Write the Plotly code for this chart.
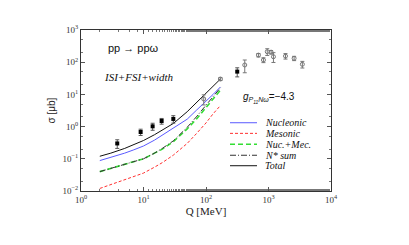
import plotly.graph_objects as go

# Theory curves
q_theory = [2, 3, 5, 7, 10, 15, 20, 30, 50, 70, 100, 130, 170]
nucleonic = [0.088, 0.11, 0.15, 0.19, 0.25, 0.38, 0.55, 0.88, 1.7, 3.2, 6.0, 10.0, 17.0]
mesonic = [0.012, 0.016, 0.022, 0.028, 0.036, 0.055, 0.076, 0.13, 0.3, 0.6, 1.3, 2.5, 4.5]
nuc_mec = [0.04, 0.05, 0.065, 0.08, 0.1, 0.15, 0.2, 0.34, 0.85, 1.7, 3.8, 7.0, 13.5]
nstar_sum = [0.04, 0.05, 0.065, 0.08, 0.1, 0.15, 0.21, 0.36, 0.95, 2.0, 4.5, 8.5, 16.0]
total = [0.12, 0.15, 0.21, 0.28, 0.37, 0.56, 0.8, 1.25, 2.9, 5.5, 11.0, 18.0, 30.0]

series_names = ["Nucleonic", "Mesonic", "Nuc.+Mec.", "N* sum", "Total"]

# Data: filled points
q_filled = [3.8, 9.0, 14.0, 19.5, 30.0, 316]
s_filled = [0.30, 0.68, 1.02, 1.49, 1.73, 51]
e_filled = [0.09, 0.15, 0.25, 0.3, 0.45, 16]

# Data: open points
q_open = [92, 170, 417, 690, 830, 955, 1100, 1200, 1870, 2570, 3480]
s_open = [7.2, 30, 82, 166, 117, 212, 205, 148, 155, 132, 86]
e_open = [2.5, 3, 35, 20, 20, 50, 25, 50, 30, 20, 20]

x_ticks = [1, 10, 100, 1000, 10000]
x_ticktext = ["10<sup>0</sup>", "10<sup>1</sup>", "10<sup>2</sup>", "10<sup>3</sup>", "10<sup>4</sup>"]
y_ticks = [0.01, 0.1, 1, 10, 100, 1000]
y_ticktext = ["10<sup>−2</sup>", "10<sup>−1</sup>", "10<sup>0</sup>", "10<sup>1</sup>", "10<sup>2</sup>", "10<sup>3</sup>"]

styles = [
    dict(color="#5a5aff", width=1, dash="solid"),
    dict(color="#ff3030", width=1, dash="3px,2px"),
    dict(color="#33dd33", width=1.6, dash="5px,3px"),
    dict(color="#333333", width=1, dash="6px,2px,1px,2px"),
    dict(color="#111111", width=1, dash="solid"),
]
curves = [nucleonic, mesonic, nuc_mec, nstar_sum, total]

fig = go.Figure()

for name, ys, st in zip(series_names, curves, styles):
    fig.add_trace(go.Scatter(x=q_theory, y=ys, mode="lines", name=name, showlegend=False,
                             line=st))

fig.add_trace(go.Scatter(x=q_open, y=s_open, mode="markers", showlegend=False,
                         marker=dict(symbol="circle-open", size=4, color="#777777", line=dict(width=1)),
                         error_y=dict(type="data", array=e_open, color="#777777", thickness=1, width=2)))
fig.add_trace(go.Scatter(x=q_filled, y=s_filled, mode="markers", showlegend=False,
                         marker=dict(symbol="square", size=4, color="#000000"),
                         error_y=dict(type="data", array=e_filled, color="#555555", thickness=1, width=2)))

# Manual compact legend (line samples + italic labels)
leg_y = [0.424, 0.358, 0.290, 0.222, 0.157]
for name, st, yy in zip(series_names, styles, leg_y):
    fig.add_shape(type="line", xref="paper", yref="paper", x0=0.596, x1=0.704, y0=yy, y1=yy,
                  line=st)
    fig.add_annotation(x=0.728, y=yy, xref="paper", yref="paper", xanchor="left", yanchor="middle",
                       text="<i>" + name + "</i>", showarrow=False,
                       font=dict(family="Liberation Serif", size=10, color="#111111"))

axis_common = dict(type="log", showgrid=False, zeroline=False, showline=True, linecolor="#333333",
                   linewidth=1, mirror="allticks", ticks="inside", ticklen=4, tickcolor="#555555",
                   minor=dict(ticks="inside", ticklen=2, tickcolor="#777777", showgrid=False),
                   tickfont=dict(family="Liberation Serif", size=9, color="#333333"))

fig.update_xaxes(**axis_common, range=[0, 4], tickvals=x_ticks, ticktext=x_ticktext,
                 title=dict(text="Q [MeV]", font=dict(family="Liberation Serif", size=11, color="#222222"),
                            standoff=0))
fig.update_yaxes(**axis_common, range=[-2, 3], tickvals=y_ticks, ticktext=y_ticktext,
                 title=dict(text="σ [μb]", font=dict(family="Liberation Sans", size=10, color="#222222"),
                            standoff=4))

fig.add_annotation(x=0.1, y=0.89, xref="paper", yref="paper", xanchor="left", yanchor="middle",
                   text="pp → ppω", showarrow=False,
                   font=dict(family="Liberation Sans", size=11, color="#111111"))
fig.add_annotation(x=0.083, y=0.71, xref="paper", yref="paper", xanchor="left", yanchor="middle",
                   text="<i>ISI+FSI+width</i>", showarrow=False,
                   font=dict(family="Liberation Serif", size=11, color="#111111"))
fig.add_annotation(x=0.64, y=0.58, xref="paper", yref="paper", xanchor="left", yanchor="middle",
                   text="<i>g</i><sub><i>P<sub>11</sub>Nω</i></sub>=−4.3", showarrow=False,
                   font=dict(family="Liberation Sans", size=10, color="#111111"))

# The page body adds an 8px offset, so the figure is shifted accordingly
fig.update_layout(
    width=401, height=237,
    margin=dict(l=73, r=78, t=22, b=54),
    paper_bgcolor="white", plot_bgcolor="white",
    font=dict(family="Liberation Serif", size=9, color="#222222"),
    showlegend=False,
)

fig.write_html("out.html")
